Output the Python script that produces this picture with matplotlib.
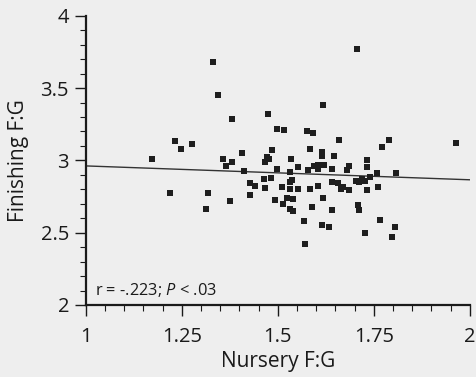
import numpy as np
import matplotlib
matplotlib.use('Agg')
import matplotlib.pyplot as plt
from matplotlib.ticker import MultipleLocator

plt.rcParams['font.family'] = ['Open Sans', 'DejaVu Sans']
plt.rcParams['mathtext.fontset'] = 'custom'
plt.rcParams['mathtext.rm'] = 'Open Sans'
plt.rcParams['mathtext.it'] = 'Open Sans:italic'

# Nursery F:G vs Finishing F:G
nursery = [1.332, 1.345, 1.380, 1.474, 1.497, 1.233, 1.249, 1.277, 1.407, 1.485,
           1.173, 1.358, 1.473, 1.707, 1.617, 1.516, 1.576, 1.592, 1.659, 1.789,
           1.772, 1.964, 1.583, 1.615, 1.616, 1.647, 1.535, 1.732, 1.365, 1.380,
           1.467, 1.413, 1.498, 1.428, 1.441, 1.463, 1.483, 1.466, 1.427, 1.494,
           1.220, 1.319, 1.375, 1.313, 1.476, 1.554, 1.531, 1.580, 1.595, 1.606,
           1.605, 1.621, 1.641, 1.685, 1.681, 1.733, 1.759, 1.807, 1.536, 1.531,
           1.511, 1.531, 1.554, 1.583, 1.606, 1.640, 1.657, 1.670, 1.664, 1.685,
           1.703, 1.712, 1.719, 1.728, 1.741, 1.733, 1.761, 1.525, 1.540, 1.513,
           1.618, 1.531, 1.541, 1.588, 1.642, 1.708, 1.712, 1.568, 1.767, 1.615,
           1.634, 1.805, 1.726, 1.798, 1.572]
finishing = [3.684, 3.455, 3.289, 3.322, 3.218, 3.133, 3.082, 3.114, 3.054, 3.075,
             3.012, 3.012, 3.022, 3.772, 3.382, 3.209, 3.204, 3.190, 3.142, 3.144,
             3.096, 3.123, 3.077, 3.057, 3.033, 3.033, 3.007, 3.000, 2.962, 2.988,
             2.988, 2.927, 2.941, 2.846, 2.824, 2.874, 2.881, 2.812, 2.761, 2.727,
             2.777, 2.777, 2.720, 2.662, 3.010, 2.957, 2.922, 2.932, 2.960, 2.969,
             2.941, 2.971, 2.943, 2.962, 2.934, 2.955, 2.913, 2.916, 2.863, 2.849,
             2.819, 2.801, 2.803, 2.805, 2.821, 2.849, 2.846, 2.815, 2.801, 2.794,
             2.856, 2.851, 2.872, 2.858, 2.884, 2.798, 2.815, 2.743, 2.731, 2.701,
             2.740, 2.662, 2.653, 2.676, 2.655, 2.694, 2.657, 2.583, 2.590, 2.552,
             2.542, 2.540, 2.498, 2.471, 2.424]

# regression line ends
fit_x = [1.0, 2.0]
fit_y = [2.962, 2.866]

x_ticks = [1, 1.25, 1.5, 1.75, 2]
x_labels = ['1', '1.25', '1.5', '1.75', '2']
y_ticks = [2, 2.5, 3, 3.5, 4]
y_labels = ['2', '2.5', '3', '3.5', '4']

bg = '#eeeeee'
ink = '#1a1a1a'
fig = plt.figure(figsize=(4.76, 3.77), dpi=100, facecolor=bg)
ax = fig.add_axes([0.18, 0.191, 0.807, 0.767], facecolor=bg)

ax.plot(fit_x, fit_y, color='#333333', lw=1.0, zorder=2)
ax.plot(nursery, finishing, 's', color='#1e1e1e', ms=4.2, mew=0, zorder=3)

ax.set_xlim(1, 2)
ax.set_ylim(2, 4)
ax.set_xticks(x_ticks)
ax.set_xticklabels(x_labels)
ax.set_yticks(y_ticks)
ax.set_yticklabels(y_labels)
ax.xaxis.set_minor_locator(MultipleLocator(0.05))
ax.yaxis.set_minor_locator(MultipleLocator(0.1))

for s in ['top', 'right']:
    ax.spines[s].set_visible(False)
for s in ['left', 'bottom']:
    ax.spines[s].set_linewidth(1.6)
    ax.spines[s].set_color(ink)

ax.tick_params(which='major', length=8, width=1.0, color=ink,
               labelsize=14.5, labelcolor=ink)
ax.tick_params(which='minor', length=4, width=0.8, color=ink)
ax.tick_params(axis='x', which='major', pad=8)
ax.tick_params(axis='y', which='major', pad=4)

ax.set_xlabel('Nursery F:G', fontsize=15, color=ink, labelpad=3)
ax.set_ylabel('Finishing F:G', fontsize=15, color=ink, labelpad=8)

ax.text(1.024, 2.069, r'r = -.223; $\mathit{P}$ < .03', fontsize=11.8,
        color=ink, ha='left', va='baseline')

fig.savefig('out.png', dpi=100, facecolor=bg)
